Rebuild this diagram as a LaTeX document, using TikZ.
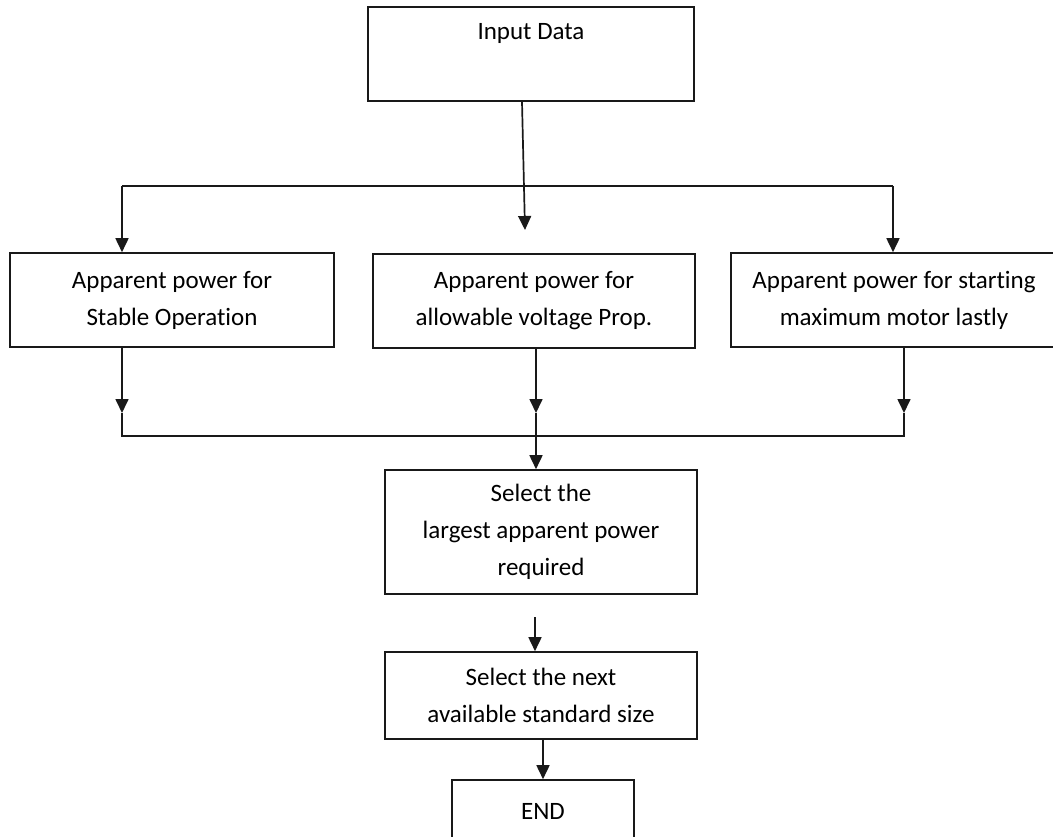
\documentclass[tikz,border=0pt]{standalone}
\usepackage{fontspec}
\setmainfont{Carlito}[RawFeature=-liga]
\usetikzlibrary{arrows.meta}
\begin{document}
\begin{tikzpicture}[x=1pt,y=-1pt,
  box/.style={draw=black!90, line width=1.6pt, inner sep=0pt, align=center,
    font=\fontsize{25}{37}\selectfont},
  txt/.style={inner sep=0pt, align=center, font=\fontsize{25}{37}\selectfont},
  conn/.style={draw=black!90, line width=1.7pt},
  arr/.style={conn, -{Triangle[length=14pt,width=13pt]}}]
\useasboundingbox (0,0) rectangle (1053,837);
\clip (0,0) rectangle (1053,837);
% boxes
\node[box, minimum width=326pt, minimum height=94pt] (inp) at (531,54) {};
\node[txt] (inptxt) at (531,33) {Input Data};
\node[box, minimum width=324pt, minimum height=94pt] (b1) at (172,300)
  {Apparent power for\\Stable Operation};
\node[box, minimum width=322pt, minimum height=94pt] (b2) at (534,301)
  {Apparent power for\\allowable voltage Prop.};
\node[box, minimum width=326pt, minimum height=94pt] (b3) at (894,300)
  {Apparent power for starting\\maximum motor lastly};
\node[box, minimum width=312pt, minimum height=124pt] (sel) at (541,532)
  {Select the\\largest apparent power\\required};
\node[box, minimum width=312pt, minimum height=87pt] (nxt) at (541,695.5)
  {Select the next\\available standard size};
\node[box, minimum width=182pt, minimum height=62pt] (end) at (543,811) {END};
% helper coordinates
\coordinate (t1) at (525,230);
\coordinate (hl) at (122,186);
\coordinate (hr) at (893,186);
\coordinate (al) at (122,413);
\coordinate (am) at (536,413);
\coordinate (ar) at (904,413);
\coordinate (bl) at (122,436);
\coordinate (br) at (904,436);
\coordinate (s2) at (535,617);
% connectors
\draw[arr] ([xshift=-9pt]inp.south) -- (t1);
\draw[conn] (hl) -- (hr);
\draw[arr] (hl) -- (hl |- b1.north);
\draw[arr] (hr) -- (hr |- b3.north);
\draw[arr] (al |- b1.south) -- (al);
\draw[arr] (am |- b2.south) -- (am);
\draw[arr] (ar |- b3.south) -- (ar);
\draw[conn] (al) -- (bl) -- (br) -- (ar);
\draw[arr] (am) -- (am |- sel.north);
\draw[arr] (s2) -- (s2 |- nxt.north);
\draw[arr] (nxt.south -| end.north) -- (end.north);
\end{tikzpicture}
\end{document}
